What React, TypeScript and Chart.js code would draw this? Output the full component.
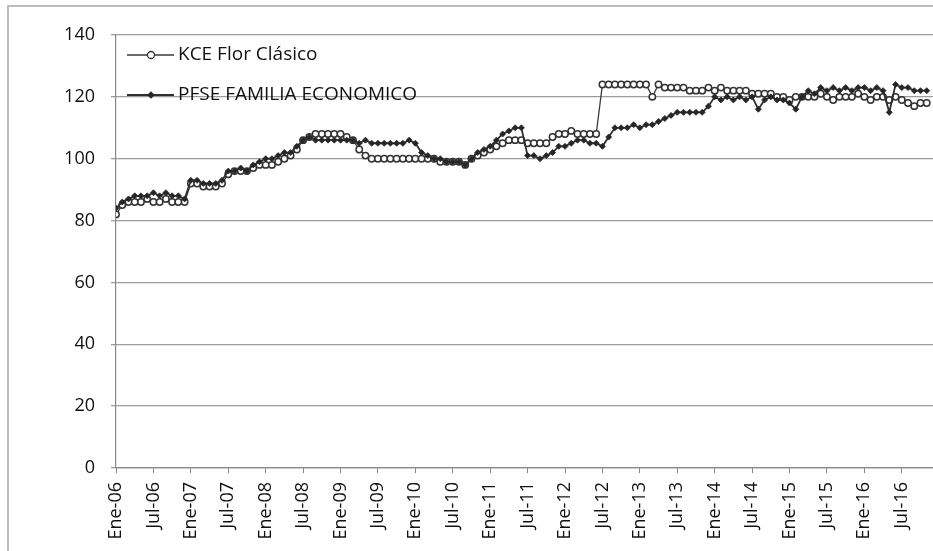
import { useEffect, useRef } from "react";
import { Chart, registerables } from "chart.js";

Chart.register(...registerables);

// Tick labels every 6 months (monthly data, index 0 = Ene-06)
const tickLabels = [
  "Ene-06", "Jul-06", "Ene-07", "Jul-07", "Ene-08", "Jul-08", "Ene-09", "Jul-09",
  "Ene-10", "Jul-10", "Ene-11", "Jul-11", "Ene-12", "Jul-12", "Ene-13", "Jul-13",
  "Ene-14", "Jul-14", "Ene-15", "Jul-15", "Ene-16", "Jul-16",
];

const seriesNames = ["KCE Flor Clásico", "PFSE FAMILIA ECONOMICO"];

// KCE Flor Clásico, monthly from Ene-06
const kceFlorClasico = [
  82, 85, 86, 86, 86, 87, 86, 86, 87, 86, 86, 86,
  92, 92, 91, 91, 91, 92, 95, 96, 96, 96, 97, 98,
  98, 98, 99, 100, 101, 103, 106, 107, 108, 108, 108, 108,
  108, 107, 106, 103, 101, 100, 100, 100, 100, 100, 100, 100,
  100, 100, 100, 100, 99, 99, 99, 99, 98, 100, 101, 102,
  103, 104, 105, 106, 106, 106, 105, 105, 105, 105, 107, 108,
  108, 109, 108, 108, 108, 108, 124, 124, 124, 124, 124, 124,
  124, 124, 120, 124, 123, 123, 123, 123, 122, 122, 122, 123,
  122, 123, 122, 122, 122, 122, 121, 121, 121, 121, 120, 120,
  119, 120, 120, 120, 120, 121, 120, 119, 120, 120, 120, 121,
  120, 119, 120, 120, 119, 120, 119, 118, 117, 118, 118,
];

// PFSE FAMILIA ECONOMICO, monthly from Ene-06
const pfseFamiliaEconomico = [
  84, 86, 87, 88, 88, 88, 89, 88, 89, 88, 88, 87,
  93, 93, 92, 92, 92, 93, 96, 96, 97, 96, 98, 99,
  100, 100, 101, 102, 102, 104, 106, 107, 106, 106, 106, 106,
  106, 106, 106, 105, 106, 105, 105, 105, 105, 105, 105, 106,
  105, 102, 101, 100, 100, 99, 99, 99, 98, 100, 102, 103,
  104, 106, 108, 109, 110, 110, 101, 101, 100, 101, 102, 104,
  104, 105, 106, 106, 105, 105, 104, 107, 110, 110, 110, 111,
  110, 111, 111, 112, 113, 114, 115, 115, 115, 115, 115, 117,
  120, 119, 120, 119, 120, 119, 120, 116, 119, 120, 119, 119,
  118, 116, 120, 122, 121, 123, 122, 123, 122, 123, 122, 123,
  123, 122, 123, 122, 115, 124, 123, 123, 122, 122, 122,
];

const Y_MIN = 0;
const Y_MAX = 140;
const Y_STEP = 20;
const MONTHS_PER_TICK = 6;
const X_MAX = 132;

const FONT = "'Open Sans', sans-serif";
const TEXT = "#111111";
const GRID = "#9c9c9c";
const AXIS = "#888888";

const W = 960;
const H = 560;

const insideLegend = {
  id: "insideLegend",
  afterDraw(chart: any) {
    const { ctx, chartArea } = chart;
    const rows = [chartArea.top + 20, chartArea.top + 60];
    chart.data.datasets.forEach((ds: any, i: number) => {
      const y = rows[i];
      const x0 = chartArea.left + 11;
      const x1 = chartArea.left + 58;
      const mx = chartArea.left + 35;
      ctx.save();
      ctx.strokeStyle = ds.borderColor;
      ctx.lineWidth = ds.borderWidth;
      ctx.beginPath();
      ctx.moveTo(x0, y);
      ctx.lineTo(x1, y);
      ctx.stroke();
      ctx.beginPath();
      if (ds.pointStyle === "circle") {
        ctx.arc(mx, y, 3.5, 0, Math.PI * 2);
        ctx.fillStyle = ds.pointBackgroundColor;
        ctx.fill();
        ctx.lineWidth = 1.3;
        ctx.strokeStyle = ds.pointBorderColor;
        ctx.stroke();
      } else {
        const r = 3.8;
        ctx.moveTo(mx, y - r);
        ctx.lineTo(mx + r, y);
        ctx.lineTo(mx, y + r);
        ctx.lineTo(mx - r, y);
        ctx.closePath();
        ctx.fillStyle = ds.pointBackgroundColor;
        ctx.fill();
      }
      ctx.fillStyle = TEXT;
      ctx.font = `19px ${FONT}`;
      ctx.textBaseline = "middle";
      ctx.textAlign = "left";
      ctx.fillText(ds.label, x1 + 4, y);
      ctx.restore();
    });
  },
};

export default function App() {
  const ref = useRef<HTMLCanvasElement | null>(null);

  useEffect(() => {
    if (!ref.current) return;
    const toPoints = (arr: number[]) => arr.map((v, i) => ({ x: i, y: v }));
    const chart = new Chart(ref.current, {
      type: "line",
      data: {
        datasets: [
          {
            label: seriesNames[0],
            data: toPoints(kceFlorClasico),
            borderColor: "#3a3a3a",
            borderWidth: 1.3,
            pointStyle: "circle",
            pointRadius: 3.2,
            pointBackgroundColor: "#ffffff",
            pointBorderColor: "#333333",
            pointBorderWidth: 1.5,
            tension: 0,
            order: 1,
          },
          {
            label: seriesNames[1],
            data: toPoints(pfseFamiliaEconomico),
            borderColor: "#2f2f2f",
            borderWidth: 1.8,
            pointStyle: "rectRot",
            pointRadius: 3,
            pointBackgroundColor: "#262626",
            pointBorderColor: "#262626",
            pointBorderWidth: 0.8,
            tension: 0,
            order: 0,
          },
        ],
      },
      options: {
        responsive: false,
        animation: false,
        events: [],
        layout: { padding: { left: 0, top: 35, right: 20.8, bottom: 0 } },
        plugins: { legend: { display: false }, tooltip: { enabled: false } },
        scales: {
          x: {
            type: "linear",
            min: 0,
            max: X_MAX,
            afterFit: (s: any) => {
              s.height = H - 468;
              s.paddingLeft = 0;
              s.paddingRight = 0;
            },
            grid: {
              drawOnChartArea: false,
              drawTicks: true,
              tickLength: 5,
              color: AXIS,
            },
            border: { display: true, color: AXIS, width: 1.2 },
            ticks: {
              stepSize: MONTHS_PER_TICK,
              autoSkip: false,
              maxRotation: 90,
              minRotation: 90,
              padding: 9,
              color: TEXT,
              font: { family: FONT, size: 18 },
              callback: (v: any) => tickLabels[Math.round(v / MONTHS_PER_TICK)] ?? "",
            },
          },
          y: {
            min: Y_MIN,
            max: Y_MAX,
            afterFit: (s: any) => {
              s.width = 116;
            },
            grid: { color: GRID, lineWidth: 1.3, tickLength: 5 },
            border: { display: true, color: AXIS, width: 1.2 },
            ticks: {
              stepSize: Y_STEP,
              padding: 16,
              color: TEXT,
              font: { family: FONT, size: 18 },
            },
          },
        },
      },
      plugins: [insideLegend],
    });
    return () => chart.destroy();
  }, []);

  return (
    <div
      style={{
        position: "fixed",
        left: 0,
        top: 0,
        width: 933,
        height: 551,
        overflow: "hidden",
        background: "#ffffff",
      }}
    >
      <div
        style={{
          position: "absolute",
          left: 7,
          top: 5,
          width: 1200,
          height: 800,
          borderLeft: "2px solid #bdbdbd",
          borderTop: "2px solid #bdbdbd",
        }}
      />
      <canvas
        ref={ref}
        width={W}
        height={H}
        style={{ position: "absolute", left: 0, top: 0, width: W, height: H }}
      />
    </div>
  );
}
